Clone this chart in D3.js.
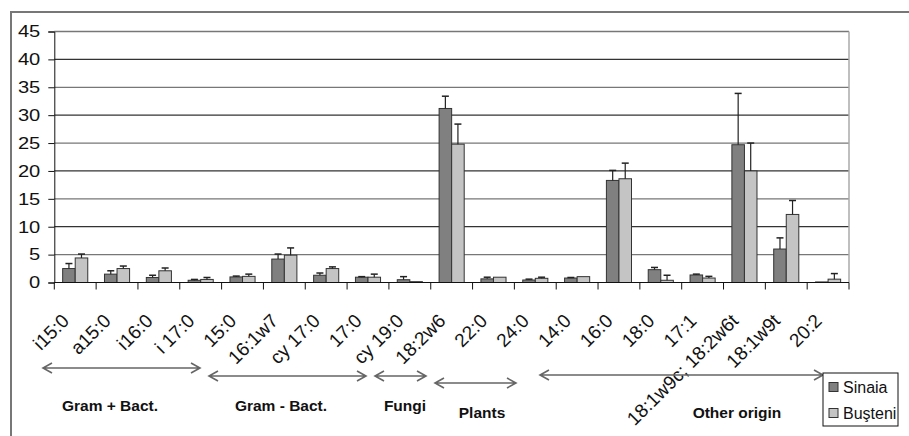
<!DOCTYPE html>
<html>
<head>
<meta charset="utf-8">
<script src="https://cdn.jsdelivr.net/npm/d3@7/dist/d3.min.js"></script>
<style>
  html, body { margin: 0; padding: 0; background: #fff; }
  svg { display: block; font-family: "Liberation Sans", Arial, sans-serif; }
</style>
</head>
<body>
<svg id="chart" width="909" height="436"></svg>
<script>
// Fatty acid markers (% of total PLFA), two sampling sites
const categories = ["i15:0", "a15:0", "i16:0", "i 17:0", "15:0", "16:1w7", "cy 17:0", "17:0",
  "cy 19:0", "18:2w6", "22:0", "24:0", "14:0", "16:0", "18:0", "17:1",
  "18:1w9c; 18:2w6t", "18:1w9t", "20:2"];
const seriesNames = ["Sinaia", "Bu\u015Fteni"];
const sinaia    = [2.5, 1.5, 0.9, 0.4, 1.0, 4.2, 1.3, 0.95, 0.5, 31.2, 0.65, 0.45, 0.8, 18.3, 2.3, 1.35, 24.7, 6.0, 0.1];
const sinaiaErr = [0.9, 0.6, 0.4, 0.15, 0.15, 0.9, 0.4, 0.1, 0.55, 2.2, 0.3, 0.15, 0.1, 1.8, 0.4, 0.15, 9.2, 2.0, 0];
const busteni    = [4.4, 2.5, 2.1, 0.55, 1.1, 4.9, 2.5, 0.95, 0.15, 24.8, 0.95, 0.75, 1.05, 18.6, 0.4, 0.8, 20.0, 12.2, 0.6];
const busteniErr = [0.7, 0.45, 0.5, 0.35, 0.4, 1.3, 0.3, 0.55, 0, 3.6, 0, 0.2, 0, 2.8, 0.9, 0.3, 5.0, 2.5, 1.0];
const yTicks = [0, 5, 10, 15, 20, 25, 30, 35, 40, 45];
// Origin groups and the extent of the double arrow drawn for each
const groupNames = ["Gram + Bact.", "Gram - Bact.", "Fungi", "Plants", "Other origin"];

const colors = { "Sinaia": "#808080", "Bu\u015Fteni": "#c4c4c4" };

const svg = d3.select("#chart");
const plotLeft = 54.3, plotRight = 849, plotTop = 31.5, plotBottom = 282.5;

const x0 = d3.scaleBand().domain(categories).range([plotLeft, plotRight]).padding(0);
const bw = x0.bandwidth();
const x1 = d3.scaleBand().domain(seriesNames).range([bw * 0.2, bw * 0.8]).padding(0);
const y = d3.scaleLinear().domain([0, 45]).range([plotBottom, plotTop]);

// outer frame
svg.append("path")
  .attr("d", `M11,440 L11,12 L912,12`)
  .attr("fill", "none").attr("stroke", "#777").attr("stroke-width", 2);

// gridlines
svg.append("g").selectAll("line").data(yTicks.filter(d => d > 0)).join("line")
  .attr("x1", plotLeft).attr("x2", plotRight)
  .attr("y1", d => y(d)).attr("y2", d => y(d))
  .attr("stroke", (d, i) => i % 2 ? "#333" : "#777").attr("stroke-width", 1.3);

// right edge of plot area
svg.append("line").attr("x1", plotRight).attr("x2", plotRight).attr("y1", plotTop).attr("y2", plotBottom)
  .attr("stroke", "#aaa").attr("stroke-width", 1.5);

// y axis (labels drawn slightly wide)
const yAxis = d3.axisLeft(y).tickValues(yTicks).tickSize(6).tickPadding(5.5).tickFormat(d3.format("d"));
const gy = svg.append("g").attr("transform", `translate(${plotLeft},0)`).call(yAxis);
gy.select(".domain").attr("stroke", "#111");
gy.selectAll(".tick line").attr("stroke", "#111");
gy.selectAll(".tick text").attr("font-size", 16.5).attr("fill", "#111")
  .attr("font-family", "'Liberation Sans', Arial, sans-serif")
  .attr("transform", "scale(1.22,1)");

// bars
const rows = categories.map((c, i) => ({
  cat: c,
  vals: [
    { s: seriesNames[0], v: sinaia[i], e: sinaiaErr[i] },
    { s: seriesNames[1], v: busteni[i], e: busteniErr[i] }
  ]
}));

const g = svg.append("g").selectAll("g").data(rows).join("g")
  .attr("transform", d => `translate(${x0(d.cat)},0)`);

g.selectAll("rect").data(d => d.vals).join("rect")
  .attr("x", d => x1(d.s))
  .attr("width", x1.bandwidth())
  .attr("y", d => y(d.v))
  .attr("height", d => y(0) - y(d.v))
  .attr("fill", d => colors[d.s])
  .attr("stroke", "#333").attr("stroke-width", 1);

// upper error bars
const eb = g.selectAll("g.err").data(d => d.vals.filter(v => v.e > 0)).join("g").attr("class", "err");
eb.append("line")
  .attr("x1", d => x1(d.s) + x1.bandwidth() / 2).attr("x2", d => x1(d.s) + x1.bandwidth() / 2)
  .attr("y1", d => y(d.v)).attr("y2", d => y(d.v + d.e))
  .attr("stroke", "#222").attr("stroke-width", 1.2);
eb.append("line")
  .attr("x1", d => x1(d.s) + x1.bandwidth() / 2 - 3.5).attr("x2", d => x1(d.s) + x1.bandwidth() / 2 + 3.5)
  .attr("y1", d => y(d.v + d.e)).attr("y2", d => y(d.v + d.e))
  .attr("stroke", "#222").attr("stroke-width", 1.5);

// x axis line and ticks at category boundaries
svg.append("line").attr("x1", plotLeft).attr("x2", plotRight).attr("y1", plotBottom).attr("y2", plotBottom)
  .attr("stroke", "#111").attr("stroke-width", 1.2);
const bounds = categories.map(c => x0(c)).concat([plotRight]);
svg.append("g").selectAll("line").data(bounds).join("line")
  .attr("x1", d => d).attr("x2", d => d).attr("y1", plotBottom).attr("y2", plotBottom + 7)
  .attr("stroke", "#111");

// rotated category labels
svg.append("g").selectAll("text").data(categories).join("text")
  .attr("transform", d => `translate(${x0(d) + bw / 2 - 5},322) rotate(-45)`)
  .attr("text-anchor", "end")
  .attr("font-size", 19).attr("fill", "#111")
  .text(d => d);

// origin group arrows and names
const arrowY = [368, 376, 376, 383, 375];
const labelY = [406, 406, 406, 413, 413];
const arrowX = [[43, 200], [209, 366], [375, 426], [435, 516], [540, 823]];
const labelX = [110, 281, 405, 482, 737];
const ag = svg.append("g").selectAll("g").data(groupNames).join("g");
ag.append("path")
  .attr("d", (d, i) => {
    const [a, b] = arrowX[i], yy = arrowY[i];
    return `M${a},${yy} L${b},${yy} M${a + 9},${yy - 5} L${a},${yy} L${a + 9},${yy + 5} M${b - 9},${yy - 5} L${b},${yy} L${b - 9},${yy + 5}`;
  })
  .attr("fill", "none").attr("stroke", "#666").attr("stroke-width", 1.6);
ag.append("text")
  .attr("x", (d, i) => labelX[i])
  .attr("y", (d, i) => labelY[i])
  .attr("dy", "0.35em")
  .attr("text-anchor", "middle")
  .attr("font-size", 15.5).attr("font-weight", "bold").attr("fill", "#111")
  .text(d => d);

// legend
const lg = svg.append("g").attr("transform", "translate(823,373)");
lg.append("rect").attr("width", 75).attr("height", 53)
  .attr("fill", "#fff").attr("stroke", "#111").attr("stroke-width", 1);
const li = lg.selectAll("g").data(seriesNames).join("g")
  .attr("transform", (d, i) => `translate(6,${14 + i * 26})`);
li.append("rect").attr("x", 0).attr("y", -4.5).attr("width", 9).attr("height", 9)
  .attr("fill", d => colors[d]).attr("stroke", "#333");
li.append("text").attr("x", 14).attr("dy", "0.35em")
  .attr("font-size", 16).attr("fill", "#111").text(d => d);
</script>
</body>
</html>
